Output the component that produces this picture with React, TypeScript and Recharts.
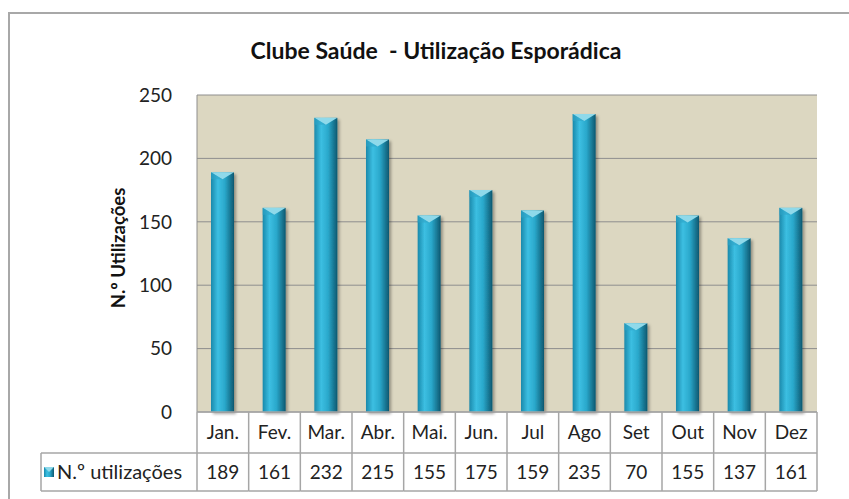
import { Bar, BarChart, CartesianGrid, XAxis, YAxis } from "recharts";

const MONTHS = ["Jan.", "Fev.", "Mar.", "Abr.", "Mai.", "Jun.", "Jul", "Ago", "Set", "Out", "Nov", "Dez"];
const USES = [189, 161, 232, 215, 155, 175, 159, 235, 70, 155, 137, 161];
const Y_TICKS = [0, 50, 100, 150, 200, 250];
const SERIES_NAME = "N.º utilizações";

const rows = MONTHS.map((m, i) => ({ month: m, uses: USES[i] }));

const FONT = "Lato, 'Open Sans', sans-serif";
const LINE = "#a6a6a6";
const PLOT_LEFT = 197;
const PLOT_RIGHT = 817;
const PLOT_BOTTOM = 412;
const ROW1 = 453;
const ROW2 = 491;
const LEGEND_LEFT = 41;
const BAND = (PLOT_RIGHT - PLOT_LEFT) / MONTHS.length;

function CylinderBar(props: any) {
  const { x, y, width, height } = props;
  if (!height || height <= 0) return null;
  const cap = Math.min(7, height);
  return (
    <g filter="url(#barShadow)">
      <rect x={x} y={y} width={width} height={height} fill="url(#barGrad)" />
      <polygon
        points={`${x},${y} ${x + width},${y} ${x + width / 2},${y + cap}`}
        fill="#8fd9ea"
      />
      <polygon points={`${x},${y} ${x + width / 2},${y + cap} ${x},${y + cap}`} fill="#2ea4c6" opacity={0.6} />
    </g>
  );
}

function TableTick(props: any) {
  const { x, payload } = props;
  const i = payload.index;
  const left = x - BAND / 2;
  const right = x + BAND / 2;
  return (
    <g>
      {i === 0 && (
        <g>
          <line x1={left} y1={PLOT_BOTTOM} x2={left} y2={ROW2} stroke={LINE} strokeWidth={1.5} />
          <line x1={LEGEND_LEFT} y1={ROW1} x2={left} y2={ROW1} stroke={LINE} strokeWidth={1.5} />
          <line x1={LEGEND_LEFT} y1={ROW2} x2={left} y2={ROW2} stroke={LINE} strokeWidth={1.5} />
          <line x1={LEGEND_LEFT} y1={ROW1} x2={LEGEND_LEFT} y2={ROW2} stroke={LINE} strokeWidth={1.5} />
          <rect x={44} y={467} width={10} height={10} fill="url(#barGrad)" />
          <polygon points="44,467 54,467 49,472" fill="#8fd9ea" />
          <text x={57} y={479} fontSize={20} fill="#222" fontFamily={FONT}>
            {SERIES_NAME}
          </text>
        </g>
      )}
      <line x1={right} y1={PLOT_BOTTOM} x2={right} y2={ROW2} stroke={LINE} strokeWidth={1.5} />
      <line x1={left} y1={ROW1} x2={right} y2={ROW1} stroke={LINE} strokeWidth={1.5} />
      <line x1={left} y1={ROW2} x2={right} y2={ROW2} stroke={LINE} strokeWidth={1.5} />
      <text x={x} y={439} textAnchor="middle" fontSize={19} fill="#222" fontFamily={FONT}>
        {payload.value}
      </text>
      <text x={x} y={479} textAnchor="middle" fontSize={19} fill="#222" fontFamily={FONT}>
        {USES[i]}
      </text>
    </g>
  );
}

export default function App() {
  return (
    <div
      style={{
        position: "absolute",
        left: 0,
        top: 0,
        width: 849,
        height: 499,
        overflow: "hidden",
        background: "#fff",
        fontFamily: FONT,
      }}
    >
      <div
        style={{
          position: "absolute",
          left: 8,
          top: 12,
          width: 900,
          height: 600,
          border: "2px solid #a8a8a8",
          boxSizing: "border-box",
        }}
      />
      <div
        style={{
          position: "absolute",
          left: 0,
          width: 872,
          top: 36,
          textAlign: "center",
          fontWeight: 700,
          fontSize: 23,
          color: "#111",
        }}
      >
        Clube Saúde&nbsp; - Utilização Esporádica
      </div>
      <div
        style={{
          position: "absolute",
          left: 118,
          top: 248,
          transform: "translate(-50%, -50%) rotate(-90deg)",
          whiteSpace: "nowrap",
          fontWeight: 700,
          fontSize: 18.5,
          color: "#111",
        }}
      >
        N.º Utilizações
      </div>
      <div style={{ position: "absolute", left: 0, top: 0 }}>
        <BarChart
          width={849}
          height={499}
          data={rows}
          margin={{ top: 95, right: 849 - PLOT_RIGHT, bottom: 0, left: PLOT_LEFT - 60 }}
        >
          <defs>
            <linearGradient id="barGrad" x1="0" y1="0" x2="1" y2="0">
              <stop offset="0%" stopColor="#1a89ab" />
              <stop offset="30%" stopColor="#3cbfe2" />
              <stop offset="60%" stopColor="#2aa8cb" />
              <stop offset="100%" stopColor="#0d5870" />
            </linearGradient>
            <filter id="barShadow" x="-30%" y="-10%" width="160%" height="120%">
              <feDropShadow dx={2} dy={2} stdDeviation={1.5} floodColor="#000" floodOpacity={0.35} />
            </filter>
          </defs>
          <CartesianGrid vertical={false} stroke="#8e8e8e" fill="#dcd7c1" />
          <YAxis
            width={60}
            domain={[0, 250]}
            ticks={Y_TICKS}
            interval={0}
            tickSize={0}
            tickMargin={25}
            tick={{ fill: "#222", fontSize: 19, fontFamily: FONT }}
            axisLine={{ stroke: "#8e8e8e" }}
            tickLine={false}
          />
          <XAxis
            dataKey="month"
            height={499 - PLOT_BOTTOM}
            interval={0}
            tickLine={false}
            axisLine={{ stroke: LINE, strokeWidth: 1.5 }}
            tick={<TableTick />}
          />
          <Bar dataKey="uses" barSize={23} shape={<CylinderBar />} isAnimationActive={false} />
        </BarChart>
      </div>
    </div>
  );
}
